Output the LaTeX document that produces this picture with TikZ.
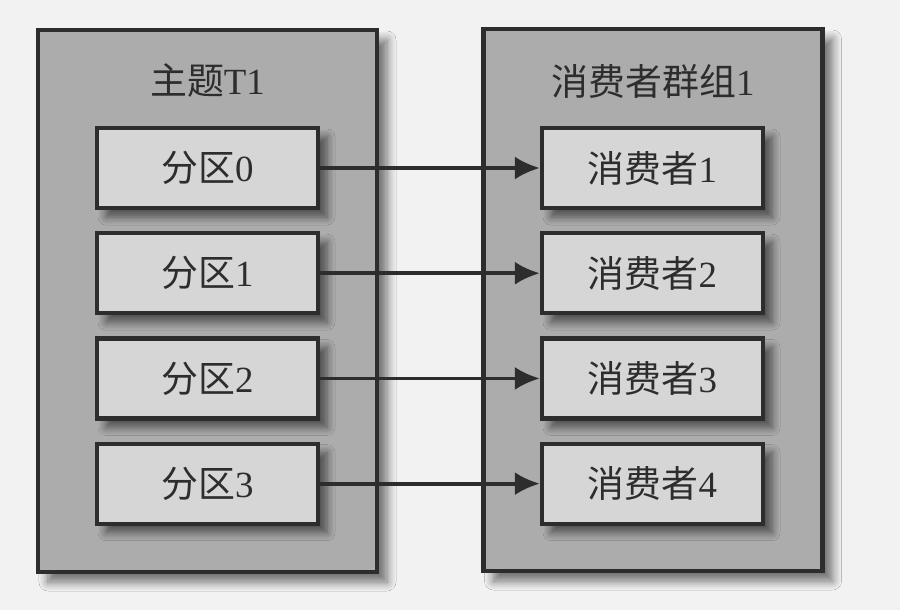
\documentclass[tikz,border=0pt]{standalone}
\usepackage{fontspec}
\setmainfont{Liberation Serif}
\newfontfamily\cjk{Noto Sans CJK SC}
\usepackage{tikz}
\usetikzlibrary{arrows.meta,positioning,calc,shadows,shadows.blur}
\usepackage{xcolor}
\definecolor{pagebg}{RGB}{242,242,242}
\definecolor{groupgray}{RGB}{172,172,172}
\definecolor{boxgray}{RGB}{214,214,214}
\definecolor{inkgray}{RGB}{45,45,45}

\begin{document}
\begin{tikzpicture}[
    node distance=0.42cm,
    group/.style={rectangle, draw=inkgray, line width=2.4pt, fill=groupgray, minimum width=6.78cm, minimum height=10.84cm, blur shadow={shadow xshift=0.2cm, shadow yshift=-0.2cm, shadow blur steps=8, shadow blur radius=0.18cm, shadow opacity=55}},
    part/.style={rectangle, draw=inkgray, line width=2.4pt, fill=boxgray, minimum width=4.42cm, minimum height=1.6cm, text=inkgray, font=\fontsize{21}{24}\selectfont, blur shadow={shadow xshift=0.18cm, shadow yshift=-0.18cm, shadow blur steps=8, shadow blur radius=0.16cm, shadow opacity=55}},
    title/.style={text=inkgray, font=\fontsize{21}{24}\selectfont},
    link/.style={draw=inkgray, line width=2.2pt, -{Latex[length=0.5cm, width=0.46cm]}}
]
    % Background
    \fill[pagebg] (0,0) rectangle (18,-12.2);
    \useasboundingbox (0,0) rectangle (18,-12.2);

    % Groups
    \node[group] (topic) at (4.15,-6.02) {};
    \node[group] (cgroup) at (13.06,-6.0) {};
    \node[title] (topic_title) at ($(topic.north)+(0,-1.06)$) {{\cjk 主题}T1};
    \node[title] (cgroup_title) at ($(cgroup.north)+(0,-1.1)$) {{\cjk 消费者群组}1};

    % Partitions
    \node[part] (p0) at (4.15,-3.36) {{\cjk 分区}0};
    \node[part, below=of p0] (p1) {{\cjk 分区}1};
    \node[part, below=of p1] (p2) {{\cjk 分区}2};
    \node[part, below=of p2] (p3) {{\cjk 分区}3};

    % Consumers
    \node[part] (c1) at (13.05,-3.36) {{\cjk 消费者}1};
    \node[part, below=of c1] (c2) {{\cjk 消费者}2};
    \node[part, below=of c2] (c3) {{\cjk 消费者}3};
    \node[part, below=of c3] (c4) {{\cjk 消费者}4};

    % Edges
    \draw[link] (p0) -- (c1);
    \draw[link] (p1) -- (c2);
    \draw[link] (p2) -- (c3);
    \draw[link] (p3) -- (c4);
\end{tikzpicture}
\end{document}
